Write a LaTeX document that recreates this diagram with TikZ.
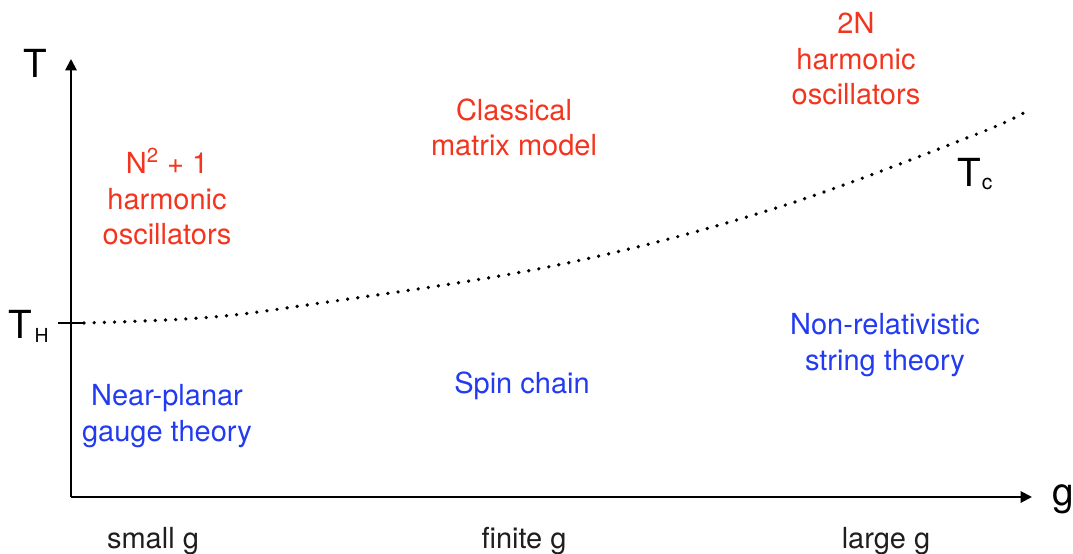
\documentclass[tikz,border=0pt]{standalone}
\usepackage{fontspec}
\setmainfont{TeX Gyre Heros}
\usetikzlibrary{arrows.meta}
\definecolor{lblred}{RGB}{243,52,30}
\definecolor{lblblue}{RGB}{34,58,240}
\definecolor{lblgray}{RGB}{30,30,30}
\begin{document}
\begin{tikzpicture}[x=0.02cm,y=-0.02cm,
  axis/.style={line width=1.1pt,-{Triangle[width=6.5pt,length=6.5pt]}},
  tickline/.style={line width=1.1pt},
  curvedots/.style={line width=2.1pt,line cap=round,dash pattern=on 0pt off 5.8pt},
  txt/.style={inner sep=0pt,align=center,anchor=base,font=\fontsize{16.5}{20.4}\selectfont},
  redlbl/.style={txt,text=lblred},
  bluelbl/.style={txt,text=lblblue},
  glbl/.style={txt,text=lblgray},
  axlbl/.style={inner sep=0pt,anchor=base west,font=\fontsize{22}{26}\selectfont}]
\useasboundingbox (0,0) rectangle (1073,554);
% axes
\coordinate (O) at (71,497);
\coordinate (Ytop) at (71,59);
\coordinate (Xend) at (1032,497);
\draw[axis] (O) -- (Ytop);
\draw[axis] (O) -- (Xend);
% tick at T_H
\coordinate (th1) at (58,323);
\coordinate (th2) at (84,323);
\draw[tickline] (th1) -- (th2);
% critical curve
\draw[curvedots] plot[smooth,tension=0.6] coordinates {(84,323) (200,318) (300,306) (553,266) (773,209) (977,134) (1028,110)};
% axis labels
\node[axlbl] (T) at (23,78) {T};
\node[axlbl] (TH) at (8,338) {T\kern1.5pt\raisebox{-2.5pt}{\fontsize{11}{11}\selectfont H}};
\node[axlbl] (Tc) at (957,187) {T\kern0.5pt\raisebox{-1.2pt}{\fontsize{12}{12}\selectfont c}};
\node[axlbl] (g) at (1052,505) {g};
% region labels (anchor = baseline of last line)
\node[redlbl] (osc1) at (167,245) {N\textsuperscript{2} + 1\\harmonic\\oscillators};
\node[redlbl] (cmm) at (514,156) {Classical\\matrix model};
\node[redlbl] (osc2) at (856,105) {2N\\harmonic\\oscillators};
\node[bluelbl] (npg) at (167,441) {Near-planar\\gauge theory};
\node[bluelbl] (spin) at (522,393) {Spin chain};
\node[bluelbl] (nrs) at (885,370) {Non-relativistic\\string theory};
% bottom labels
\node[glbl] (small) at (153,548) {small g};
\node[glbl] (finite) at (524,548) {finite g};
\node[glbl] (large) at (886,548) {large g};
\end{tikzpicture}
\end{document}
